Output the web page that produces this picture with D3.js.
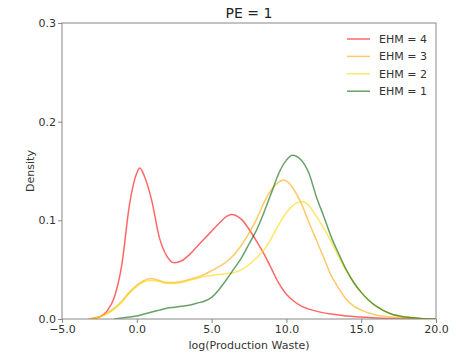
<!DOCTYPE html>
<html>
<head>
<meta charset="utf-8">
<script src="https://cdn.jsdelivr.net/npm/d3@7"></script>
<style>
  html, body { margin: 0; padding: 0; background: #fff; }
  svg { display: block; font-family: "DejaVu Sans", sans-serif; }
</style>
</head>
<body>
<svg id="chart" width="456" height="353"></svg>
<script>
// ---- data ----
const title = "PE = 1";
const xLabel = "log(Production Waste)";
const yLabel = "Density";
const xTicks = [-5, 0, 5, 10, 15, 20];
const yTicks = [0, 0.1, 0.2, 0.3];
const seriesNames = ["EHM = 4", "EHM = 3", "EHM = 2", "EHM = 1"];
const seriesColors = ["red", "orange", "gold", "darkgreen"];

const x4 = [-3.2, -2.5, -2, -1.5, -1, -0.5, 0, 0.2, 0.5, 1, 1.5, 2, 2.5, 3, 3.5, 4, 4.5, 5, 5.5, 6, 6.3, 7, 7.5, 8, 8.5, 9, 9.5, 10, 10.5, 11, 12, 13, 14, 15, 16, 17, 18, 20];
const y4 = [0, 0.002, 0.008, 0.022, 0.055, 0.115, 0.148, 0.153, 0.145, 0.120, 0.083, 0.064, 0.057, 0.059, 0.065, 0.073, 0.081, 0.089, 0.097, 0.104, 0.106, 0.101, 0.091, 0.079, 0.066, 0.051, 0.036, 0.025, 0.018, 0.013, 0.008, 0.005, 0.003, 0.002, 0.001, 0.0005, 0.0002, 0];

const x3 = [-3.2, -2.5, -2, -1.5, -1, -0.5, 0, 0.5, 0.9, 1.5, 2, 2.5, 3, 3.5, 4, 4.5, 5, 5.5, 6, 6.5, 7, 7.5, 8, 8.5, 9, 9.5, 9.8, 10, 10.5, 11, 11.5, 12, 12.5, 13, 13.5, 14, 14.5, 15, 16, 17, 18, 19, 20];
const y3 = [0, 0.002, 0.006, 0.011, 0.018, 0.027, 0.034, 0.039, 0.041, 0.039, 0.037, 0.037, 0.038, 0.040, 0.042, 0.045, 0.049, 0.053, 0.058, 0.065, 0.075, 0.087, 0.101, 0.118, 0.131, 0.139, 0.141, 0.140, 0.131, 0.117, 0.098, 0.080, 0.062, 0.044, 0.031, 0.020, 0.013, 0.009, 0.004, 0.002, 0.001, 0.0003, 0];

const x2 = [-3.2, -2.5, -2, -1.5, -1, -0.5, 0, 0.5, 0.9, 1.5, 2, 2.5, 3, 3.5, 4, 4.5, 5, 5.5, 6, 6.5, 7, 7.5, 8, 8.5, 9, 9.5, 10, 10.5, 11, 11.5, 12, 12.5, 13, 13.5, 14, 14.5, 15, 15.5, 16, 17, 18, 19, 20];
const y2 = [0, 0.002, 0.005, 0.010, 0.017, 0.026, 0.033, 0.038, 0.039, 0.038, 0.036, 0.036, 0.037, 0.039, 0.041, 0.043, 0.044, 0.045, 0.046, 0.047, 0.050, 0.055, 0.062, 0.070, 0.082, 0.096, 0.108, 0.116, 0.119, 0.115, 0.104, 0.092, 0.078, 0.063, 0.049, 0.037, 0.027, 0.019, 0.013, 0.005, 0.002, 0.0006, 0];

const x1 = [-1.5, -1, -0.5, 0, 0.5, 1, 1.5, 2, 2.5, 3, 3.5, 4, 4.5, 5, 5.5, 6, 6.5, 7, 7.5, 8, 8.5, 9, 9.5, 10, 10.4, 11, 11.5, 12, 12.5, 13, 13.5, 14, 14.5, 15, 15.5, 16, 17, 18, 19, 20];
const y1 = [0, 0.001, 0.002, 0.003, 0.005, 0.007, 0.009, 0.011, 0.012, 0.013, 0.014, 0.016, 0.018, 0.022, 0.030, 0.040, 0.051, 0.062, 0.076, 0.090, 0.108, 0.128, 0.148, 0.161, 0.166, 0.161, 0.148, 0.124, 0.104, 0.083, 0.066, 0.050, 0.037, 0.027, 0.019, 0.013, 0.005, 0.002, 0.0006, 0];

const seriesX = [x4, x3, x2, x1];
const seriesY = [y4, y3, y2, y1];

// ---- layout ----
const svg = d3.select("#chart");
const margin = {left: 62, right: 20, top: 23, bottom: 34};
const W = 456, H = 353;
const x = d3.scaleLinear().domain([-5, 20]).range([margin.left, W - margin.right]);
const y = d3.scaleLinear().domain([0, 0.3]).range([H - margin.bottom, margin.top]);

svg.append("defs").append("clipPath").attr("id", "clip")
  .append("rect")
  .attr("x", x(-5)).attr("y", y(0.3))
  .attr("width", x(20) - x(-5)).attr("height", y(0) - y(0.3));

// lines
const line = d3.line()
  .x(d => x(d[0])).y(d => y(d[1]))
  .curve(d3.curveMonotoneX);

const g = svg.append("g").attr("clip-path", "url(#clip)");
seriesNames.forEach((name, i) => {
  const pts = seriesX[i].map((v, j) => [v, seriesY[i][j]]);
  g.append("path")
    .datum(pts)
    .attr("d", line)
    .attr("fill", "none")
    .attr("stroke", seriesColors[i])
    .attr("stroke-opacity", 0.6)
    .attr("stroke-width", 1.5);
});

// frame
const axisColor = "#888";
svg.append("rect")
  .attr("x", x(-5)).attr("y", y(0.3))
  .attr("width", x(20) - x(-5)).attr("height", y(0) - y(0.3))
  .attr("fill", "none").attr("stroke", axisColor).attr("stroke-width", 1);

// axes
const xAxis = svg.append("g")
  .attr("transform", `translate(0,${y(0)})`)
  .call(d3.axisBottom(x).tickValues(xTicks).tickFormat(d3.format(".1f")).tickSize(4).tickPadding(2));
const yAxis = svg.append("g")
  .attr("transform", `translate(${x(-5)},0)`)
  .call(d3.axisLeft(y).tickValues(yTicks).tickFormat(d3.format(".1f")).tickSize(4).tickPadding(2));
[xAxis, yAxis].forEach(a => {
  a.select(".domain").remove();
  a.selectAll(".tick line").attr("stroke", axisColor);
  a.selectAll(".tick text")
    .attr("fill", "#333")
    .attr("font-size", 11)
    .attr("font-family", "DejaVu Sans, sans-serif");
});

// title & labels
svg.append("text")
  .attr("x", (x(-5) + x(20)) / 2).attr("y", 18)
  .attr("text-anchor", "middle")
  .attr("font-size", 14).attr("fill", "#222")
  .text(title);
svg.append("text")
  .attr("x", (x(-5) + x(20)) / 2).attr("y", 349)
  .attr("text-anchor", "middle")
  .attr("font-size", 11).attr("fill", "#333")
  .text(xLabel);
svg.append("text")
  .attr("transform", `translate(34,${(y(0) + y(0.3)) / 2}) rotate(-90)`)
  .attr("text-anchor", "middle")
  .attr("font-size", 11).attr("fill", "#333")
  .text(yLabel);

// legend
const leg = svg.append("g").attr("transform", "translate(347,39)");
seriesNames.forEach((name, i) => {
  const row = leg.append("g").attr("transform", `translate(0,${i * 17.4})`);
  row.append("line")
    .attr("x1", 0).attr("x2", 23).attr("y1", 0).attr("y2", 0)
    .attr("stroke", seriesColors[i]).attr("stroke-opacity", 0.6).attr("stroke-width", 1.5);
  row.append("text")
    .attr("x", 32).attr("y", 4)
    .attr("font-size", 11).attr("fill", "#333")
    .text(name);
});
</script>
</body>
</html>
